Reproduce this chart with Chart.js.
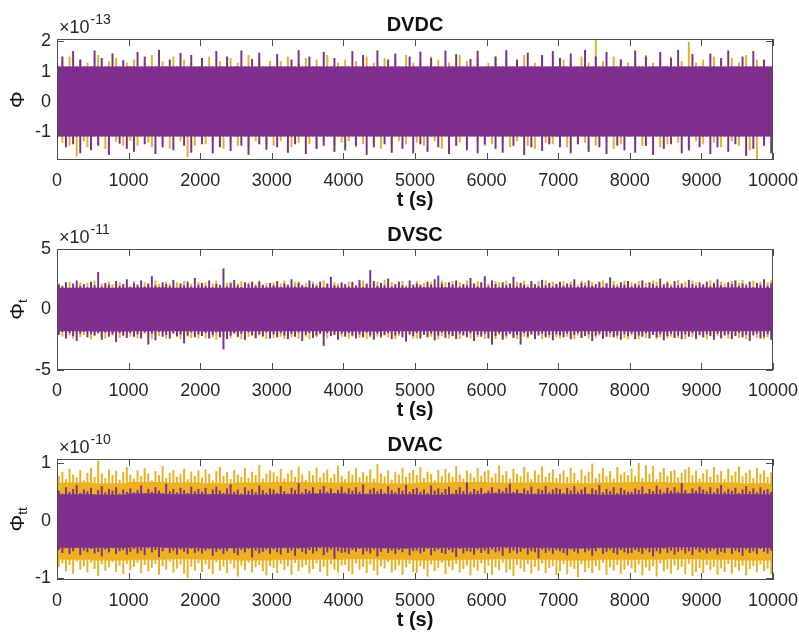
<!DOCTYPE html>
<html><head><meta charset="utf-8">
<script src="https://cdn.jsdelivr.net/npm/chart.js@4/dist/chart.umd.min.js"></script>
<style>
html,body{margin:0;padding:0;background:#fff;}
body{width:799px;height:633px;position:relative;overflow:hidden;}
canvas{position:absolute;left:0;}
</style></head><body>
<canvas id="c0" width="799" height="210" style="top:0px"></canvas>
<canvas id="c1" width="799" height="210" style="top:210px"></canvas>
<canvas id="c2" width="799" height="213" style="top:420px"></canvas>
<script>
// ---- DATA (values in hundredths of each panel's axis multiplier) ----
// fine bins: 50 s, extreme values reached inside each bin
const binWidth = 50;
const binCount = 200;
// coarse bins: 500 s, level of the solid (dense) part of each signal
const coreWidth = 500;
const coreCount = 20;
const xTickValues = [0,1000,2000,3000,4000,5000,6000,7000,8000,9000,10000];

const panelTitles = ['DVDC','DVSC','DVAC'];
const panelExponents = ['-13','-11','-10'];
const yTickValues1 = [-1,0,1,2];
const yTickValues2 = [-5,0,5];
const yTickValues3 = [-1,0,1];

// DVDC (x1e-15)
const dvdcPurpleCoreHi = [117,117,117,117,117,117,117,117,117,117,117,117,117,117,117,117,117,117,117,117];
const dvdcPurpleCoreLo = [-114,-114,-114,-114,-114,-114,-114,-114,-114,-114,-114,-114,-114,-114,-114,-114,-114,-114,-114,-114];
const dvdcOrangeCoreHi = [115,115,115,115,115,115,115,115,115,115,115,115,115,115,115,115,115,115,115,115];
const dvdcOrangeCoreLo = [-112,-112,-112,-112,-112,-112,-112,-112,-112,-112,-112,-112,-112,-112,-112,-112,-112,-112,-112,-112];
const dvdcPurpleHi = [117,150,117,117,168,117,140,117,117,117,170,117,145,117,117,160,117,117,138,117,
117,117,165,117,150,117,117,117,172,117,117,140,117,117,162,117,117,155,117,117,
145,117,117,117,168,117,117,150,117,117,117,170,117,117,142,117,163,117,117,117,
117,158,117,117,117,140,117,171,117,117,150,117,117,117,165,117,117,145,117,117,
117,117,168,117,117,155,117,117,117,170,117,117,140,117,160,117,117,117,150,117,
117,166,117,117,145,117,117,117,170,117,117,158,117,117,117,142,117,169,117,117,
117,117,150,117,117,171,117,117,140,117,117,163,117,117,117,155,117,117,168,117,
145,117,117,160,117,117,117,172,117,117,150,117,117,165,117,117,117,140,117,117,
117,170,117,117,150,117,117,117,165,117,117,145,117,172,117,117,117,158,117,117,
117,117,160,117,117,145,117,170,117,117,117,150,117,117,168,117,117,140,117,117];
const dvdcPurpleLo = [-114,-114,-150,-114,-140,-114,-170,-114,-114,-160,-114,-145,-114,-114,-175,-114,-114,-138,-114,-155,
-114,-165,-114,-114,-140,-114,-114,-172,-114,-150,-114,-114,-160,-114,-114,-145,-114,-168,-114,-114,
-140,-114,-114,-170,-114,-150,-114,-114,-162,-114,-114,-145,-114,-175,-114,-114,-140,-114,-158,-114,
-114,-150,-114,-114,-168,-114,-140,-114,-114,-172,-114,-114,-155,-114,-145,-114,-114,-165,-114,-114,
-160,-114,-114,-145,-114,-114,-175,-114,-150,-114,-114,-140,-114,-168,-114,-114,-155,-114,-114,-170,
-114,-140,-114,-165,-114,-114,-150,-114,-114,-172,-114,-145,-114,-114,-160,-114,-114,-170,-114,-140,
-114,-114,-155,-114,-168,-114,-114,-145,-114,-114,-175,-114,-150,-114,-114,-162,-114,-140,-114,-114,
-150,-114,-114,-170,-114,-140,-114,-114,-165,-114,-114,-150,-114,-172,-114,-114,-145,-114,-160,-114,
-114,-168,-114,-114,-145,-114,-175,-114,-114,-155,-114,-140,-114,-114,-170,-114,-160,-114,-114,-150,
-114,-114,-172,-114,-150,-114,-114,-165,-114,-140,-114,-114,-178,-114,-155,-114,-114,-145,-114,-170];
const dvdcOrangeHi = [115,135,115,150,115,115,140,115,130,115,115,155,115,115,135,115,145,115,115,130,
115,140,115,115,130,115,155,115,115,135,115,115,150,115,115,140,115,130,115,115,
130,115,150,115,115,135,115,115,145,115,130,115,115,155,115,115,140,115,115,135,
115,115,135,115,150,115,115,130,115,145,115,115,140,115,115,155,115,115,130,115,
140,115,115,135,115,115,150,115,130,115,115,145,115,115,135,115,115,155,115,130,
115,135,115,115,150,115,140,115,115,130,115,115,155,115,135,115,115,145,115,115,
130,115,150,115,115,140,115,115,135,115,155,115,115,130,115,145,115,115,140,115,
115,140,115,135,115,115,150,115,130,115,208,115,135,115,115,150,115,140,115,130,
115,135,115,115,155,115,130,115,140,115,115,150,115,115,135,115,198,115,130,115,
140,115,115,150,115,135,115,115,145,115,130,115,155,115,115,140,115,135,115,115];
const dvdcOrangeLo = [-112,-135,-112,-145,-112,-181,-112,-130,-150,-112,-112,-140,-112,-155,-112,-112,-132,-112,-145,-112,
-130,-112,-145,-112,-112,-135,-150,-112,-112,-140,-112,-155,-112,-112,-130,-112,-183,-112,-145,-112,
-112,-140,-112,-130,-112,-112,-155,-112,-135,-112,-145,-112,-112,-150,-112,-130,-112,-112,-140,-112,
-145,-112,-130,-112,-112,-150,-112,-135,-112,-112,-140,-112,-155,-112,-130,-112,-112,-145,-112,-135,
-112,-130,-112,-150,-112,-140,-112,-112,-135,-112,-155,-112,-112,-145,-112,-130,-112,-140,-112,-112,
-135,-112,-145,-112,-112,-130,-112,-155,-112,-140,-112,-112,-135,-112,-150,-112,-112,-130,-112,-145,
-112,-140,-112,-112,-135,-112,-150,-112,-130,-112,-112,-145,-112,-155,-112,-112,-135,-112,-140,-112,
-130,-112,-150,-112,-112,-140,-112,-135,-112,-112,-145,-112,-112,-130,-112,-155,-112,-140,-112,-112,
-112,-135,-112,-145,-112,-112,-130,-112,-150,-112,-140,-112,-112,-135,-112,-112,-155,-112,-130,-112,
-140,-112,-112,-135,-112,-150,-112,-112,-130,-112,-145,-112,-112,-160,-112,-190,-112,-135,-112,-112];

// DVSC (x1e-13)
const dvscPurpleCoreHi = [180,179,181,180,180,179,181,180,179,180,181,180,179,180,181,180,179,180,181,180];
const dvscPurpleCoreLo = [-180,-181,-179,-180,-181,-180,-179,-180,-181,-180,-179,-180,-181,-180,-179,-180,-181,-180,-179,-180];
const dvscOrangeCoreHi = [175,174,175,176,175,174,175,176,175,174,175,176,175,174,175,176,175,174,175,176];
const dvscOrangeCoreLo = [-176,-175,-174,-175,-176,-175,-174,-175,-176,-175,-174,-175,-176,-175,-174,-175,-176,-175,-174,-175];
const dvscPurpleHi = [205,190,225,180,215,240,195,210,185,230,200,310,190,220,205,180,235,195,210,250,
185,220,200,240,190,215,275,200,185,225,210,195,245,180,215,200,230,190,260,205,
220,195,240,185,210,200,340,190,215,245,200,185,225,210,230,195,230,205,190,220,
200,235,185,215,205,250,190,220,200,185,240,210,195,230,185,215,270,200,190,225,
210,190,230,200,245,185,215,325,235,195,220,200,255,190,210,230,200,185,240,205,
215,200,185,230,205,250,280,215,185,225,205,240,190,210,200,260,215,190,225,275,
195,240,210,185,225,200,215,270,190,220,205,185,235,210,195,245,200,220,190,210,
230,195,215,205,250,185,220,200,240,195,210,230,185,215,265,200,190,225,205,235,
190,215,200,240,185,225,210,195,255,205,220,190,235,200,215,185,245,210,195,225,
205,230,190,215,250,200,185,225,210,240,195,215,200,230,185,220,205,250,195,215];
const dvscPurpleLo = [-210,-185,-240,-195,-220,-260,-200,-185,-230,-205,-215,-195,-250,-190,-225,-205,-270,-195,-215,-235,
-195,-225,-205,-240,-190,-290,-200,-255,-185,-225,-210,-240,-195,-220,-205,-280,-215,-190,-230,-205,
-220,-195,-240,-210,-190,-230,-330,-245,-215,-195,-225,-200,-250,-190,-215,-235,-205,-220,-190,-240,
-205,-230,-195,-215,-245,-200,-225,-190,-260,-210,-195,-235,-215,-200,-300,-195,-220,-210,-250,-200,
-225,-195,-215,-240,-205,-230,-190,-215,-250,-200,-225,-210,-195,-245,-215,-200,-230,-265,-205,-220,
-195,-240,-210,-225,-200,-255,-215,-190,-235,-205,-220,-245,-200,-215,-230,-195,-260,-210,-225,-200,
-240,-290,-220,-195,-250,-215,-200,-235,-210,-290,-195,-225,-205,-245,-215,-200,-230,-210,-255,-205,
-215,-230,-200,-245,-210,-195,-235,-220,-205,-260,-215,-200,-240,-225,-195,-230,-215,-250,-205,-220,
-200,-245,-215,-225,-195,-240,-210,-230,-205,-255,-220,-200,-235,-215,-245,-205,-225,-195,-240,-210,
-230,-205,-220,-250,-200,-235,-215,-205,-245,-220,-195,-230,-210,-260,-215,-200,-240,-225,-205,-250];
const dvscOrangeHi = [215,200,190,230,195,205,225,185,220,200,240,195,215,205,230,210,190,225,200,215,
200,235,210,195,225,205,190,240,210,195,230,215,200,225,195,235,205,215,190,230,
210,225,195,215,240,205,190,220,230,200,215,235,190,225,205,210,240,195,220,200,
225,200,215,240,195,210,225,235,205,220,195,230,215,200,240,210,195,225,215,200,
200,230,215,195,225,240,205,190,215,230,200,245,210,225,195,215,235,200,210,190,
235,210,220,195,230,205,215,240,225,200,235,210,225,195,240,210,200,235,215,195,
215,200,235,225,195,240,210,195,230,215,240,205,220,195,235,210,240,200,230,215,
200,235,195,230,215,205,240,225,200,230,195,215,240,220,205,235,210,200,240,210,
225,200,235,210,220,195,240,230,205,215,235,210,200,245,195,230,215,240,225,200,
215,195,240,225,205,230,215,200,235,210,220,245,215,200,240,205,230,210,225,240];
const dvscOrangeLo = [-200,-225,-195,-215,-240,-205,-230,-210,-195,-245,-215,-200,-225,-240,-205,-215,-195,-235,-220,-205,
-225,-205,-240,-215,-200,-230,-245,-210,-220,-195,-240,-215,-205,-230,-245,-200,-225,-235,-210,-240,
-205,-240,-215,-230,-250,-200,-225,-215,-240,-205,-230,-245,-210,-225,-200,-240,-215,-230,-245,-205,
-235,-210,-225,-245,-200,-230,-215,-240,-205,-225,-245,-210,-230,-200,-225,-240,-215,-205,-235,-225,
-210,-240,-225,-200,-235,-215,-245,-230,-205,-225,-240,-215,-230,-205,-245,-220,-205,-235,-215,-240,
-240,-215,-200,-235,-225,-210,-245,-220,-205,-240,-215,-230,-245,-205,-220,-240,-215,-230,-205,-245,
-215,-235,-245,-210,-225,-240,-205,-230,-245,-215,-225,-240,-210,-235,-200,-245,-220,-235,-215,-230,
-240,-205,-225,-235,-245,-215,-230,-205,-240,-220,-235,-215,-245,-205,-230,-225,-240,-210,-235,-245,
-215,-230,-245,-205,-235,-220,-210,-245,-230,-205,-240,-225,-215,-235,-205,-245,-220,-230,-250,-215,
-230,-245,-210,-235,-220,-245,-205,-240,-225,-215,-235,-210,-245,-225,-200,-235,-215,-245,-230,-210];

// DVAC (x1e-12)
const dvacPurpleCoreHi = [46,45,47,46,46,45,46,47,46,46,45,46,47,46,46,45,46,47,46,46];
const dvacPurpleCoreLo = [-47,-47,-46,-47,-48,-47,-47,-46,-47,-48,-47,-47,-46,-47,-48,-47,-47,-46,-47,-47];
const dvacOrangeCoreHi = [66,65,67,66,65,66,67,66,66,65,66,67,66,66,65,66,67,66,66,65];
const dvacOrangeCoreLo = [-68,-69,-68,-67,-68,-69,-68,-68,-67,-68,-69,-68,-67,-68,-69,-68,-68,-67,-68,-69];
const dvacPurpleHi = [52,47,58,50,55,62,48,54,51,57,46,53,60,49,55,52,58,47,54,50,
56,49,53,61,48,55,50,58,52,47,64,51,55,49,57,53,48,59,51,55,
50,57,46,54,59,52,48,56,63,50,54,47,58,52,55,49,61,53,48,56,
54,48,60,51,47,57,53,65,49,55,52,58,46,54,60,50,56,48,53,59,
49,56,52,58,50,63,47,54,57,51,55,48,60,53,49,57,52,62,50,55,
57,50,54,48,61,52,56,49,55,59,47,53,58,51,66,50,55,52,57,48,
52,58,49,55,51,57,64,50,54,48,56,52,59,47,55,53,60,49,54,57,
55,48,57,52,60,50,54,58,47,56,53,62,49,55,51,58,48,57,53,50,
50,56,53,59,48,55,51,61,54,49,57,52,58,50,65,53,47,56,52,59,
54,51,58,49,56,62,50,55,52,57,48,54,60,51,56,49,58,53,55,50];
const dvacPurpleLo = [-51,-56,-48,-58,-53,-47,-60,-52,-55,-49,-57,-54,-62,-50,-55,-48,-58,-53,-51,-59,
-54,-49,-57,-52,-60,-48,-55,-51,-63,-53,-47,-56,-52,-59,-50,-54,-58,-49,-56,-53,
-57,-52,-49,-61,-54,-50,-58,-53,-47,-56,-60,-51,-55,-49,-64,-52,-57,-54,-50,-58,
-50,-55,-59,-48,-56,-52,-61,-49,-54,-58,-51,-57,-53,-48,-60,-55,-50,-66,-53,-56,
-55,-58,-51,-54,-49,-59,-53,-57,-50,-62,-54,-48,-56,-52,-58,-51,-55,-49,-60,-53,
-52,-57,-54,-49,-60,-53,-50,-56,-58,-51,-55,-63,-49,-57,-53,-54,-59,-50,-56,-52,
-58,-50,-55,-53,-61,-48,-56,-52,-57,-54,-49,-59,-53,-55,-65,-50,-56,-52,-58,-51,
-53,-56,-60,-50,-54,-57,-49,-55,-52,-61,-53,-48,-58,-54,-50,-56,-59,-51,-55,-57,
-56,-51,-54,-58,-50,-55,-62,-53,-57,-49,-56,-52,-59,-54,-51,-57,-53,-60,-50,-55,
-51,-57,-53,-50,-59,-54,-56,-48,-58,-52,-55,-61,-50,-56,-53,-58,-49,-54,-57,-52];
const dvacOrangeHi = [78,85,72,90,80,75,88,70,83,92,76,104,82,74,89,79,86,71,84,93,
80,73,87,77,91,82,70,86,79,95,74,83,88,76,81,90,72,85,78,87,
75,89,81,70,86,93,78,84,72,88,80,76,91,74,85,79,97,73,82,87,
84,77,90,73,82,88,76,94,80,71,86,79,92,75,83,89,74,81,96,78,
72,86,80,91,75,84,78,89,73,98,82,77,87,71,85,80,92,76,83,88,
79,93,74,85,81,70,88,77,90,83,76,95,80,73,87,82,75,91,78,85,
88,75,82,96,79,86,73,90,81,77,93,84,72,87,80,94,76,83,89,74,
81,87,76,92,83,70,89,78,85,99,74,82,91,77,86,73,93,80,84,79,
90,77,100,74,96,81,95,72,84,91,78,86,88,75,83,89,93,79,87,73,
82,89,76,93,80,86,72,90,79,85,94,77,83,88,74,91,81,87,76,84];
const dvacOrangeLo = [-80,-74,-88,-77,-92,-71,-85,-79,-90,-73,-84,-96,-76,-87,-81,-72,-89,-78,-93,-75,
-86,-80,-73,-91,-77,-88,-82,-75,-94,-79,-85,-71,-90,-83,-76,-92,-99,-80,-87,-74,
-89,-76,-84,-93,-72,-87,-80,-91,-75,-83,-97,-78,-86,-73,-90,-81,-77,-88,-95,-79,
-82,-91,-75,-86,-79,-94,-73,-88,-81,-77,-92,-84,-74,-89,-80,-96,-76,-85,-90,-78,
-77,-88,-93,-74,-85,-80,-91,-76,-87,-95,-79,-83,-72,-90,-86,-78,-94,-81,-75,-89,
-91,-79,-84,-97,-76,-88,-82,-73,-93,-80,-86,-75,-90,-84,-78,-95,-81,-87,-74,-92,
-78,-94,-81,-86,-73,-90,-85,-96,-77,-83,-89,-75,-92,-80,-87,-74,-91,-82,-79,-95,
-88,-75,-93,-80,-84,-98,-76,-89,-82,-91,-79,-86,-73,-94,-81,-87,-77,-92,-85,-78,
-83,-90,-76,-95,-81,-87,-79,-97,-74,-88,-84,-92,-78,-86,-80,-93,-75,-96,-89,-82,
-91,-77,-86,-80,-94,-83,-89,-75,-92,-81,-87,-78,-95,-84,-79,-90,-76,-88,-83,-93];

// ---- rendering ----
const FONT = '"Liberation Sans", Arial, Helvetica, sans-serif';
const PURPLE = '#7E2F8E', ORANGE = '#EDB120', AXIS = '#262626';
const binCenters = Array.from({length: binCount}, (_, i) => i * binWidth + binWidth / 2);
const coreCenters = Array.from({length: coreCount}, (_, i) => i * coreWidth + coreWidth / 2);

function toBars(centers, lo, hi) {
  return centers.map((t, i) => ({x: t, y: [lo[i] / 100, hi[i] / 100]}));
}

const matlabFrame = {
  id: 'matlabFrame',
  afterDraw(chart, args, o) {
    const {ctx, chartArea: a, scales: {x, y}} = chart;
    ctx.save();
    ctx.strokeStyle = '#4d4d4d';
    ctx.lineWidth = 1;
    ctx.strokeRect(Math.round(a.left) + 0.5, Math.round(a.top) + 0.5,
                   Math.round(a.right - a.left) - 1, Math.round(a.bottom - a.top) - 1);
    const L = 7;
    ctx.beginPath();
    x.ticks.forEach(t => {
      const px = Math.round(x.getPixelForValue(t.value)) + 0.5;
      ctx.moveTo(px, a.bottom); ctx.lineTo(px, a.bottom - L);
      ctx.moveTo(px, a.top); ctx.lineTo(px, a.top + L);
    });
    y.ticks.forEach(t => {
      const py = Math.round(y.getPixelForValue(t.value)) + 0.5;
      ctx.moveTo(a.left, py); ctx.lineTo(a.left + L, py);
      ctx.moveTo(a.right, py); ctx.lineTo(a.right - L, py);
    });
    ctx.stroke();
    ctx.fillStyle = '#111';
    ctx.font = 'bold 20px ' + FONT;
    ctx.textAlign = 'center'; ctx.textBaseline = 'alphabetic';
    ctx.fillText(o.title, (a.left + a.right) / 2, a.top - 8);
    ctx.fillText('t (s)', (a.left + a.right) / 2, a.bottom + 46);
    ctx.textAlign = 'left';
    ctx.font = '18px ' + FONT;
    ctx.fillStyle = '#262626';
    const base = '\u00d710';
    ctx.fillText(base, a.left + 2, a.top - 6);
    const w = ctx.measureText(base).width;
    ctx.font = '14px ' + FONT;
    ctx.fillText(o.expo, a.left + 2 + w + 1, a.top - 15);
    ctx.fillStyle = '#111';
    ctx.translate(18, (a.top + a.bottom) / 2);
    ctx.rotate(-Math.PI / 2);
    ctx.font = '21px ' + FONT;
    const mw = ctx.measureText(o.yMain).width;
    ctx.font = '13px ' + FONT;
    const sw = o.ySub ? ctx.measureText(o.ySub).width : 0;
    const x0 = -(mw + sw) / 2;
    ctx.textBaseline = 'middle';
    ctx.font = '21px ' + FONT;
    ctx.fillText(o.yMain, x0, 0);
    if (o.ySub) { ctx.font = '13px ' + FONT; ctx.fillText(o.ySub, x0 + mw, 5); }
    ctx.restore();
  }
};

function makePanel(id, h, title, expo, yMain, ySub, yMin, yMax, yTicks, s) {
  // fine bins on axis 'x', coarse bins on a hidden twin axis 'xc' (own bar ruler)
  const spikeOpts = {xAxisID: 'x', grouped: false, barPercentage: 0.55, categoryPercentage: 1, borderWidth: 0, clip: 0};
  const coreOpts = {xAxisID: 'xc', grouped: false, barPercentage: 1.03, categoryPercentage: 1, borderWidth: 0, clip: 0};
  new Chart(document.getElementById(id), {
    type: 'bar',
    data: {
      datasets: [
        Object.assign({label: 'purple extremes', data: toBars(binCenters, s.pLo, s.pHi), backgroundColor: PURPLE, order: 0}, spikeOpts),
        Object.assign({label: 'purple dense', data: toBars(coreCenters, s.pcLo, s.pcHi), backgroundColor: PURPLE, order: 1}, coreOpts),
        Object.assign({label: 'orange extremes', data: toBars(binCenters, s.oLo, s.oHi), backgroundColor: ORANGE, order: 2}, spikeOpts),
        Object.assign({label: 'orange dense', data: toBars(coreCenters, s.ocLo, s.ocHi), backgroundColor: ORANGE, order: 3}, coreOpts)
      ]
    },
    options: {
      responsive: false, animation: false, devicePixelRatio: 1,
      layout: {padding: {top: 39, right: 26, left: 0, bottom: 0}},
      plugins: {legend: {display: false}, tooltip: {enabled: false},
                matlabFrame: {title, expo, yMain, ySub}},
      scales: {
        x: {type: 'linear', position: 'bottom', min: 0, max: 10000, offset: false,
            grid: {display: false, drawTicks: false}, border: {display: false},
            afterBuildTicks: sc => { sc.ticks = xTickValues.map(v => ({value: v})); },
            afterFit: sc => { sc.height = h - 160; sc.paddingLeft = 0; sc.paddingRight = 0; },
            ticks: {autoSkip: false, maxRotation: 0, padding: 10, color: AXIS,
                    font: {family: FONT, size: 18}, callback: v => String(v)}},
        xc: {type: 'linear', position: 'bottom', display: false, min: 0, max: 10000, offset: false},
        y: {type: 'linear', min: yMin, max: yMax,
            grid: {display: false, drawTicks: false}, border: {display: false},
            afterBuildTicks: sc => { sc.ticks = yTicks.map(v => ({value: v})); },
            afterFit: sc => { sc.width = 57; sc.paddingTop = 0; sc.paddingBottom = 0; },
            ticks: {padding: 6, color: AXIS, font: {family: FONT, size: 18}, callback: v => String(v)}}
      }
    },
    plugins: [matlabFrame]
  });
}

makePanel('c0', 210, panelTitles[0], panelExponents[0], '\u03a6', '', -1.92, 2.08, yTickValues1,
  {pLo: dvdcPurpleLo, pHi: dvdcPurpleHi, oLo: dvdcOrangeLo, oHi: dvdcOrangeHi,
   pcLo: dvdcPurpleCoreLo, pcHi: dvdcPurpleCoreHi, ocLo: dvdcOrangeCoreLo, ocHi: dvdcOrangeCoreHi});
makePanel('c1', 210, panelTitles[1], panelExponents[1], '\u03a6', 't', -5, 5, yTickValues2,
  {pLo: dvscPurpleLo, pHi: dvscPurpleHi, oLo: dvscOrangeLo, oHi: dvscOrangeHi,
   pcLo: dvscPurpleCoreLo, pcHi: dvscPurpleCoreHi, ocLo: dvscOrangeCoreLo, ocHi: dvscOrangeCoreHi});
makePanel('c2', 213, panelTitles[2], panelExponents[2], '\u03a6', 'tt', -1.03, 1.07, yTickValues3,
  {pLo: dvacPurpleLo, pHi: dvacPurpleHi, oLo: dvacOrangeLo, oHi: dvacOrangeHi,
   pcLo: dvacPurpleCoreLo, pcHi: dvacPurpleCoreHi, ocLo: dvacOrangeCoreLo, ocHi: dvacOrangeCoreHi});
</script>
</body></html>
